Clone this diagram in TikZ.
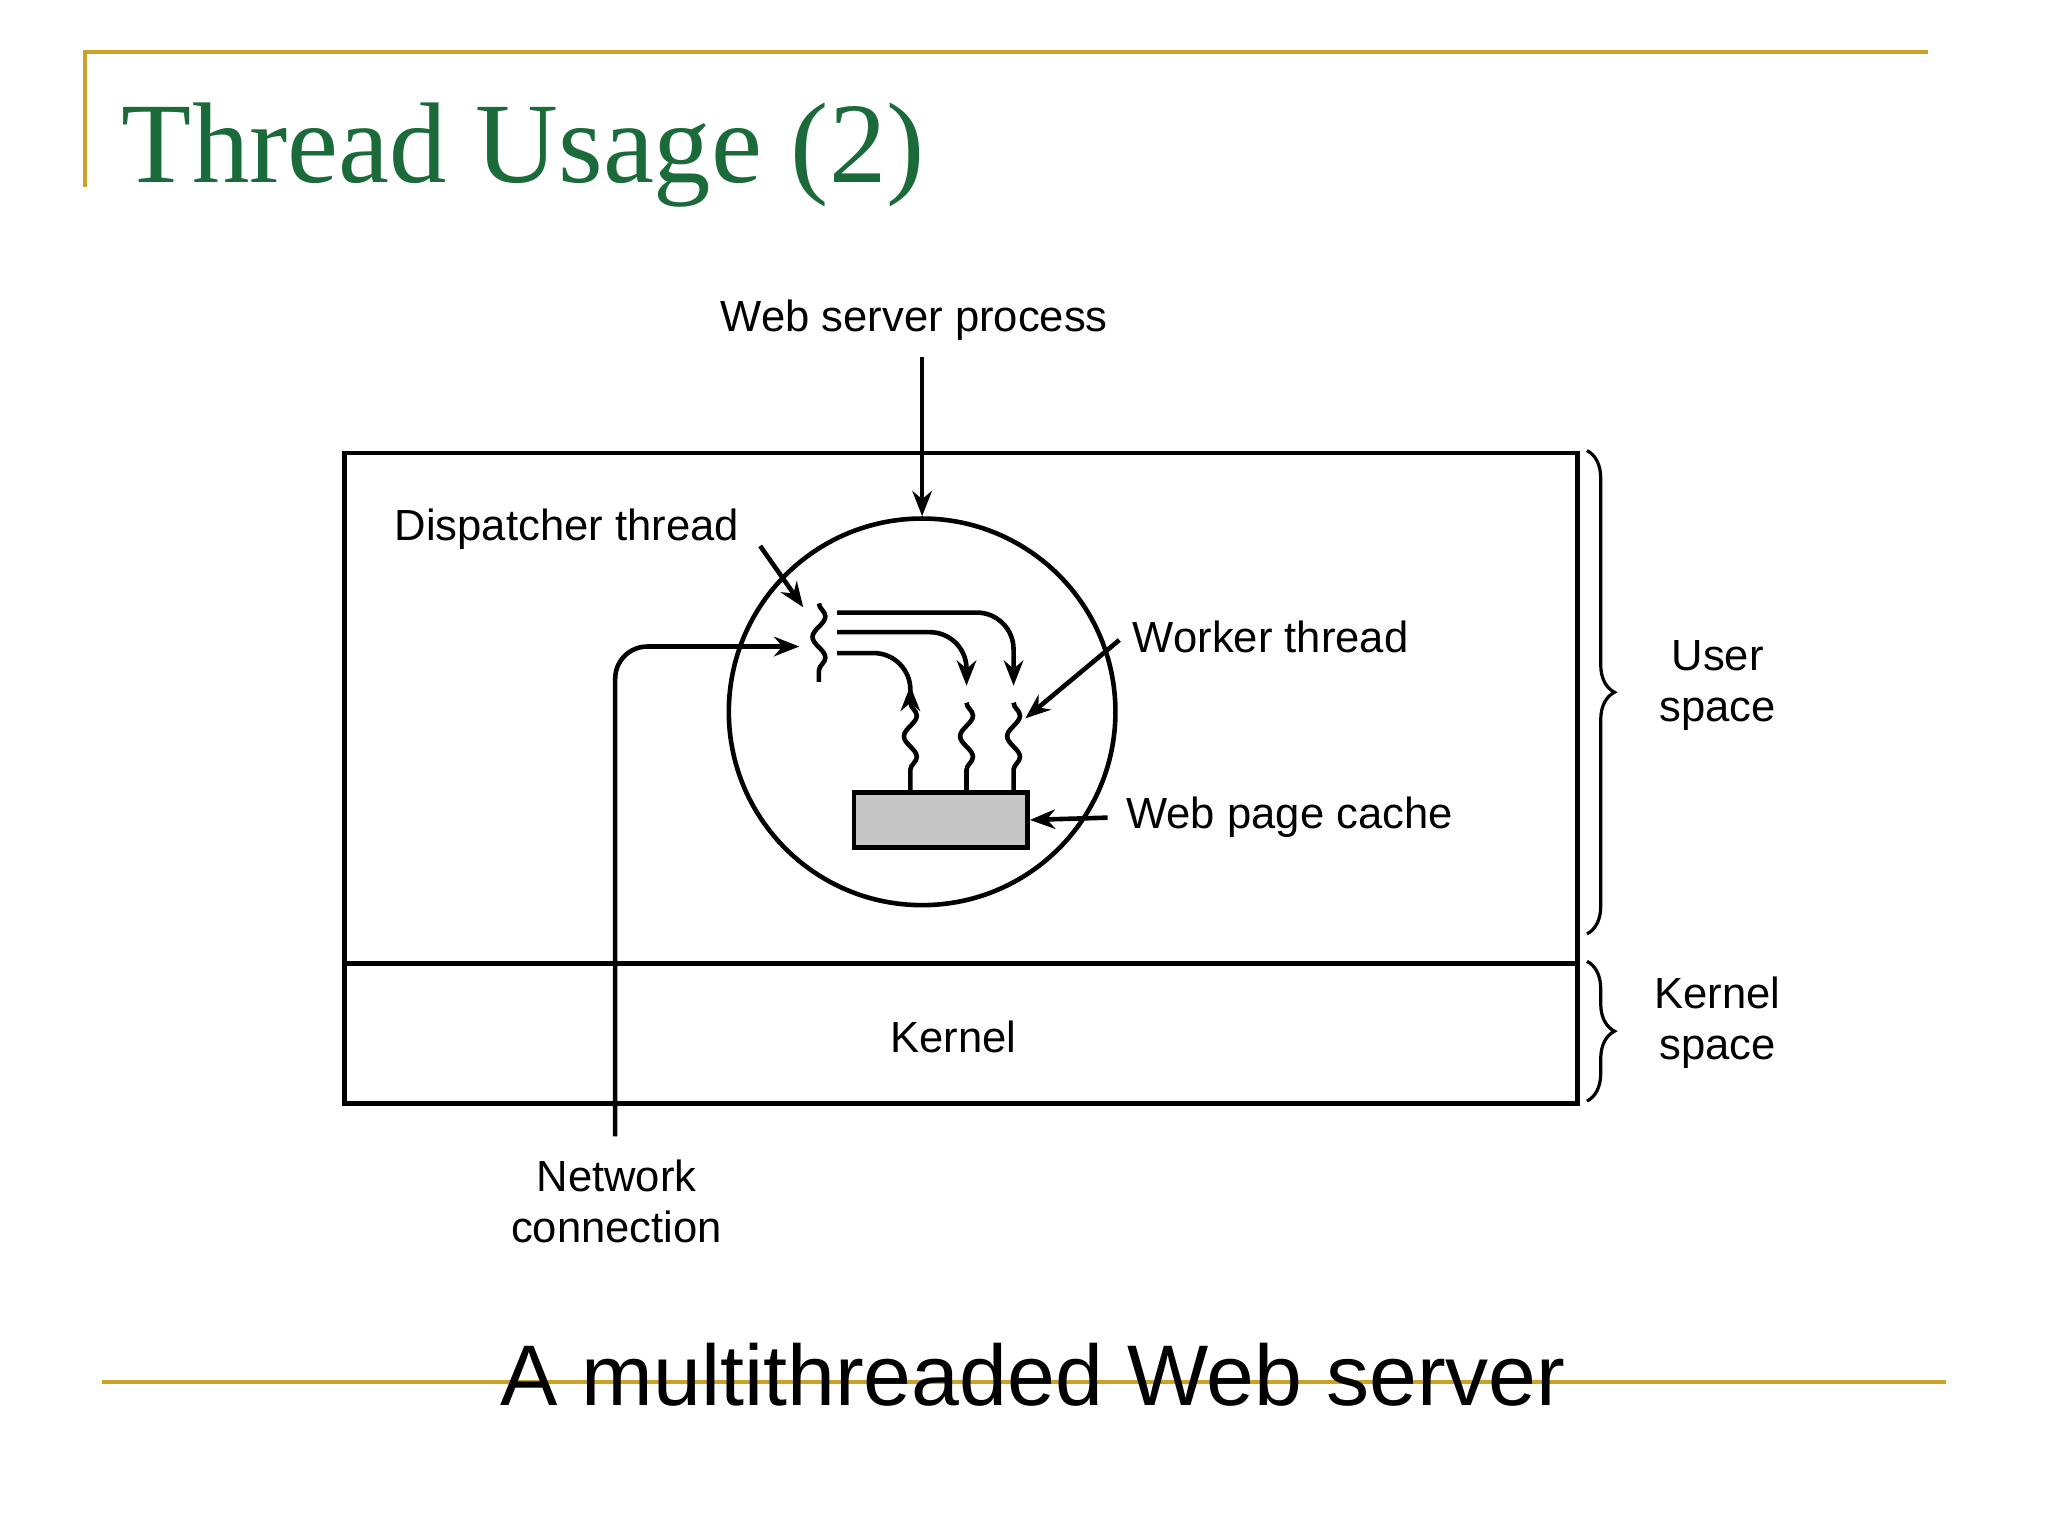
\documentclass[tikz,border=0pt]{standalone}
\usepackage{fontspec}
\setmainfont{Liberation Sans}
\newfontfamily\titlefont{Liberation Serif}
\usetikzlibrary{arrows.meta,decorations.pathmorphing,decorations.pathreplacing}
\definecolor{gold}{HTML}{C9A227}
\definecolor{tgreen}{HTML}{1B6B3A}
\begin{document}
\begin{tikzpicture}[x=0.02cm,y=-0.02cm,
  ln/.style={line width=2pt},
  arr/.style={ln,-{Stealth[length=11pt,width=8.5pt]}},
  lbl/.style={font=\fontsize{19}{22}\selectfont,align=center,inner sep=0pt},
  squig/.style={ln,decorate,decoration={snake,amplitude=2.8pt,segment length=18pt}},
  brace/.style={line width=1.4pt,decorate,decoration={brace,amplitude=12pt}}]
\useasboundingbox (0,0) rectangle (1568,1176);
% slide frame
\draw[gold,line width=1.6pt] (65,143) -- (65,40) -- (1476,40);
\node[anchor=base west,text=tgreen,font=\titlefont\fontsize{50}{54}\selectfont,inner sep=0pt] (title) at (93,140) {Thread Usage (2)};
\draw[gold,line width=1.6pt] (78,1058) -- (1490,1058);
\node[anchor=base,font=\fontsize{37.5}{42}\selectfont,inner sep=0pt] (caption) at (791,1076) {A multithreaded Web server};
% boxes
\node[draw,ln,minimum width=944*0.02cm,minimum height=391*0.02cm,anchor=north west,inner sep=0pt] (user) at (262,345) {};
\node[draw,ln,minimum width=944*0.02cm,minimum height=107*0.02cm,anchor=north west,inner sep=0pt] (kern) at (262,736) {};
\node[lbl] (kernel) at (730,794) {Kernel};
% process circle
\node[draw,ln,circle,minimum size=296*0.02cm,inner sep=0pt] (proc) at (706,545) {};
\node[lbl] (wsp) at (700,245) {Web server process};
\coordinate (wspa) at (706,273);
\draw[arr] (wspa) -- (proc.north);
% dispatcher
\coordinate (d1) at (627,462); \coordinate (d2) at (627,522);
\draw[squig] (d1) -- (d2);
\node[lbl] (disp) at (434,405) {Dispatcher thread};
\coordinate (dispa) at (582,418); \coordinate (dispb) at (615,465);
\draw[arr] (dispa) -- (dispb);
% network
\node[lbl] (net) at (472,920) {Network\\connection};
\coordinate (n0) at (471,870); \coordinate (n1) at (612,495);
\draw[arr,rounded corners=14] (n0) |- (n1);
% worker arrows
\coordinate (a1) at (641,469); \coordinate (a2) at (641,484); \coordinate (a3) at (641,500);
\coordinate (t1) at (776,525); \coordinate (t2) at (740,525); \coordinate (t3) at (697,525);
\draw[arr,rounded corners=16] (a1) -| (t1);
\draw[arr,rounded corners=16] (a2) -| (t2);
\draw[arr,rounded corners=16] (a3) -| (t3);
% worker squiggles
\foreach \x/\n in {697/w3,740/w2,776/w1}{
  \coordinate (\n a) at (\x,538); \coordinate (\n b) at (\x,605);
  \draw[squig] (\n a) -- (\n b);
}
% cache
\node[draw,ln,fill=gray!45,minimum width=133*0.02cm,minimum height=42*0.02cm,anchor=north west,inner sep=0pt] (cache) at (652,605) {};
\node[lbl,anchor=west] (wt) at (867,488) {Worker thread};
\coordinate (wta) at (857,490); \coordinate (wtb) at (785,550);
\draw[arr] (wta) -- (wtb);
\node[lbl,anchor=west] (wpc) at (862,626) {Web page cache};
\coordinate (wpca) at (848,626);
\draw[arr] (wpca) -- (cache.east);
% braces
\coordinate (b1) at (1215,345); \coordinate (b2) at (1215,715);
\coordinate (b3) at (1215,736); \coordinate (b4) at (1215,843);
\draw[brace] (b1) -- (b2);
\draw[brace] (b3) -- (b4);
\node[lbl] (us) at (1315,525) {User\\space};
\node[lbl] (ks) at (1315,783) {Kernel\\space};
\end{tikzpicture}
\end{document}
